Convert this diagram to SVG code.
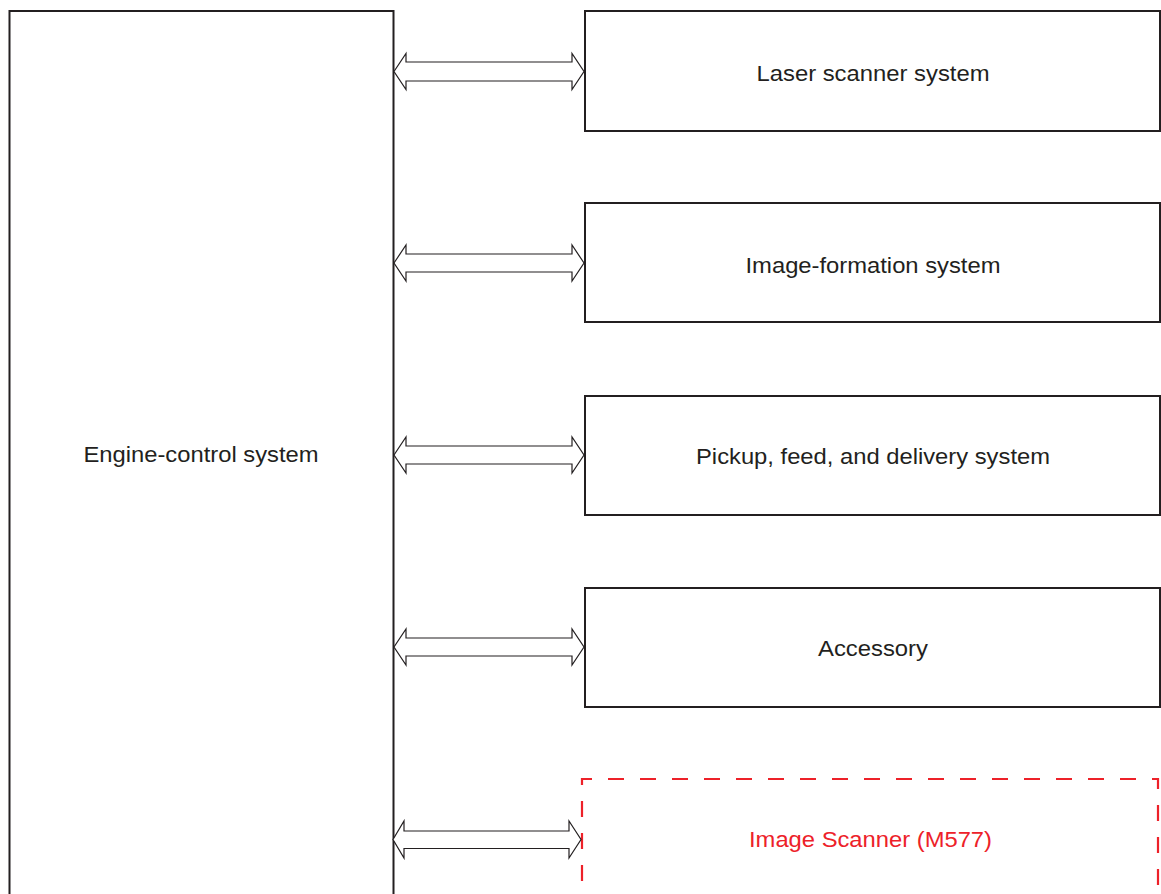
<svg xmlns="http://www.w3.org/2000/svg" width="1161" height="894" viewBox="0 0 1161 894">
  <style>
    .box { fill: #ffffff; stroke: #231f20; stroke-width: 2; }
    .dash { fill: none; stroke: #ed2129; stroke-width: 2.2; stroke-dasharray: 16 16; stroke-dashoffset: 13; }
    .arrow { fill: #ffffff; stroke: #231f20; stroke-width: 1.2; stroke-linejoin: miter; }
    .lbl { font-family: "Liberation Sans", Arial, sans-serif; font-size: 22px; fill: #231f20; text-anchor: middle; }
    .red { fill: #ed2129; }
  </style>
  <rect x="0" y="0" width="1161" height="894" fill="#ffffff"/>

  <g id="engine-control">
    <rect class="box" x="9.5" y="11" width="384" height="900"/>
    <text class="lbl" x="201" y="461.5" textLength="235" lengthAdjust="spacingAndGlyphs">Engine-control system</text>
  </g>

  <g id="laser-scanner">
    <rect class="box" x="585" y="11" width="575" height="120"/>
    <text class="lbl" x="873" y="80.5" textLength="233" lengthAdjust="spacingAndGlyphs">Laser scanner system</text>
  </g>

  <g id="image-formation">
    <rect class="box" x="585" y="203" width="575" height="119"/>
    <text class="lbl" x="873" y="272.5" textLength="255" lengthAdjust="spacingAndGlyphs">Image-formation system</text>
  </g>

  <g id="pickup-feed-delivery">
    <rect class="box" x="585" y="396" width="575" height="119"/>
    <text class="lbl" x="873" y="464" textLength="354" lengthAdjust="spacingAndGlyphs">Pickup, feed, and delivery system</text>
  </g>

  <g id="accessory">
    <rect class="box" x="585" y="588" width="575" height="119"/>
    <text class="lbl" x="873" y="656" textLength="110" lengthAdjust="spacingAndGlyphs">Accessory</text>
  </g>

  <g id="image-scanner">
    <path class="dash" d="M582,900 L582,779 L1158,779 L1158,900"/>
    <text class="lbl red" x="870.5" y="847" textLength="243" lengthAdjust="spacingAndGlyphs">Image Scanner (M577)</text>
  </g>

  <g id="connectors">
    <polygon class="arrow" points="394,71.5 406,53.5 406,62 572,62 572,53.5 584,71.5 572,89.5 572,81 406,81 406,89.5"/>
    <polygon class="arrow" points="394,263 406,245 406,254 572,254 572,245 584,263 572,281 572,272 406,272 406,281"/>
    <polygon class="arrow" points="394,455 406,437 406,446 572,446 572,437 584,455 572,473 572,464 406,464 406,473"/>
    <polygon class="arrow" points="394,647 406,629 406,638 572,638 572,629 584,647 572,665 572,656 406,656 406,665"/>
    <polygon class="arrow" points="393,839.5 404,821 404,831 569,831 569,821 581,839.5 569,858 569,848.5 404,848.5 404,858"/>
  </g>
</svg>
